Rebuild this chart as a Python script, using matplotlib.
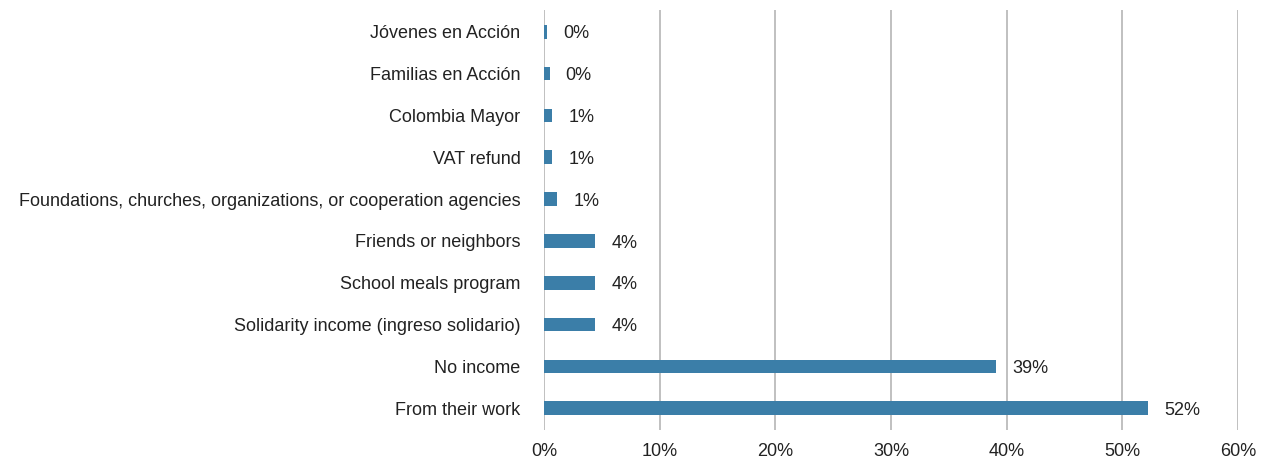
import matplotlib
matplotlib.use('Agg')
import matplotlib.pyplot as plt
from matplotlib.ticker import FuncFormatter

# Data (top to bottom as shown)
categories = [
    'Jóvenes en Acción',
    'Familias en Acción',
    'Colombia Mayor',
    'VAT refund',
    'Foundations, churches, organizations, or cooperation agencies',
    'Friends or neighbors',
    'School meals program',
    'Solidarity income (ingreso solidario)',
    'No income',
    'From their work',
]
values = [0.25, 0.48, 0.7, 0.7, 1.15, 4.45, 4.45, 4.45, 39.1, 52.2]

plt.rcParams['font.family'] = ['Liberation Sans', 'DejaVu Sans']

fig = plt.figure(figsize=(12.62, 4.61), dpi=100)
ax = fig.add_axes([544 / 1262, 31 / 461, (1238 - 544) / 1262, 420 / 461])

ypos = list(range(len(categories)))
ax.barh(ypos, values, height=0.33, color='#3b7ea8', zorder=3)

for y, v in zip(ypos, values):
    ax.text(v + 1.4, y + 0.05, f'{round(v)}%', va='center', ha='left',
            fontsize=13, color='#222222')

ax.set_xlim(0, 60)
ax.set_ylim(len(categories) - 0.48, -0.52)
ax.set_xticks(range(0, 61, 10))
ax.xaxis.set_major_formatter(FuncFormatter(lambda x, _: f'{int(x)}%'))
ax.set_yticks(ypos)
ax.set_yticklabels(categories)

ax.grid(axis='x', color='#b5b5b5', linewidth=1.2, zorder=0)
for s in ax.spines.values():
    s.set_visible(False)
ax.tick_params(axis='y', length=0, pad=17, labelsize=13, labelcolor='#222222')
ax.tick_params(axis='x', length=0, pad=9, labelsize=13, labelcolor='#222222')

fig.savefig('out.png', dpi=100)
